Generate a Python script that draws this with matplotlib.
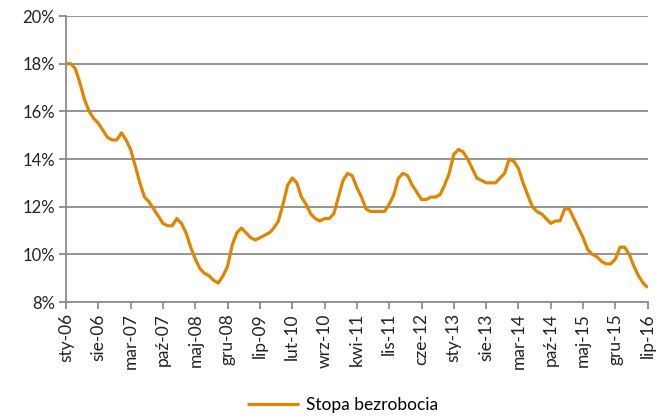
import numpy as np
import matplotlib
matplotlib.use('Agg')
from matplotlib import pyplot as plt

# Stopa bezrobocia (%), miesięcznie od sty-06 do lip-16
stopa = [
    18.0, 18.0, 17.8, 17.2, 16.5, 16.0, 15.7, 15.5, 15.2, 14.9, 14.8, 14.8,  # 2006
    15.1, 14.8, 14.4, 13.7, 13.0, 12.4, 12.2, 11.9, 11.6, 11.3, 11.2, 11.2,  # 2007
    11.5, 11.3, 10.9, 10.3, 9.8, 9.4, 9.2, 9.1, 8.9, 8.8, 9.1, 9.5,          # 2008
    10.4, 10.9, 11.1, 10.9, 10.7, 10.6, 10.7, 10.8, 10.9, 11.1, 11.4, 12.1,  # 2009
    12.9, 13.2, 13.0, 12.4, 12.1, 11.7, 11.5, 11.4, 11.5, 11.5, 11.7, 12.4,  # 2010
    13.1, 13.4, 13.3, 12.8, 12.4, 11.9, 11.8, 11.8, 11.8, 11.8, 12.1, 12.5,  # 2011
    13.2, 13.4, 13.3, 12.9, 12.6, 12.3, 12.3, 12.4, 12.4, 12.5, 12.9, 13.4,  # 2012
    14.2, 14.4, 14.3, 14.0, 13.6, 13.2, 13.1, 13.0, 13.0, 13.0, 13.2, 13.4,  # 2013
    14.0, 13.9, 13.6, 13.0, 12.5, 12.0, 11.8, 11.7, 11.5, 11.3, 11.4, 11.4,  # 2014
    11.9, 11.9, 11.5, 11.1, 10.7, 10.2, 10.0, 9.9, 9.7, 9.6, 9.6, 9.8,       # 2015
    10.3, 10.3, 10.0, 9.5, 9.1, 8.8, 8.6,                                    # 2016
]

etykiety = ['sty-06', 'sie-06', 'mar-07', 'paź-07', 'maj-08', 'gru-08', 'lip-09',
            'lut-10', 'wrz-10', 'kwi-11', 'lis-11', 'cze-12', 'sty-13', 'sie-13',
            'mar-14', 'paź-14', 'maj-15', 'gru-15', 'lip-16']

plt.rcParams['font.family'] = ['Lato', 'DejaVu Sans']

miesiace = np.arange(len(stopa))
kolor = '#E18500'
szary = '#8C8C8C'

fig = plt.figure(figsize=(6.65, 4.16), dpi=100)
ax = fig.add_axes([0.0993, 0.274, 0.8747, 0.6875])

ax.plot(miesiace, stopa, color=kolor, lw=2.3, label='Stopa bezrobocia',
        solid_joinstyle='round', solid_capstyle='butt')

ax.set_xlim(0, len(stopa) - 1)
ax.set_ylim(8, 20)
ax.set_yticks(np.arange(8, 21, 2))
ax.set_yticklabels([f'{v}%' for v in range(8, 21, 2)], fontsize=12, color='#222222')
ax.set_xticks(miesiace[::7])
ax.set_xticklabels(etykiety, rotation=90, fontsize=12.5, color='#222222')

ax.grid(axis='y', color=szary, lw=1.3)
ax.set_axisbelow(True)
for s in ['top', 'right']:
    ax.spines[s].set_visible(False)
for s in ['left', 'bottom']:
    ax.spines[s].set_color(szary)
    ax.spines[s].set_linewidth(1.3)
ax.tick_params(axis='x', direction='out', length=5, color=szary, width=1.3, pad=3)
ax.tick_params(axis='y', direction='out', length=5, color=szary, width=1.3, pad=3)

fig.legend(loc='center', bbox_to_anchor=(0.515, 0.027), frameon=False,
           fontsize=12.5, handlelength=3.0, handletextpad=0.4)

fig.savefig('out.png', dpi=100)
